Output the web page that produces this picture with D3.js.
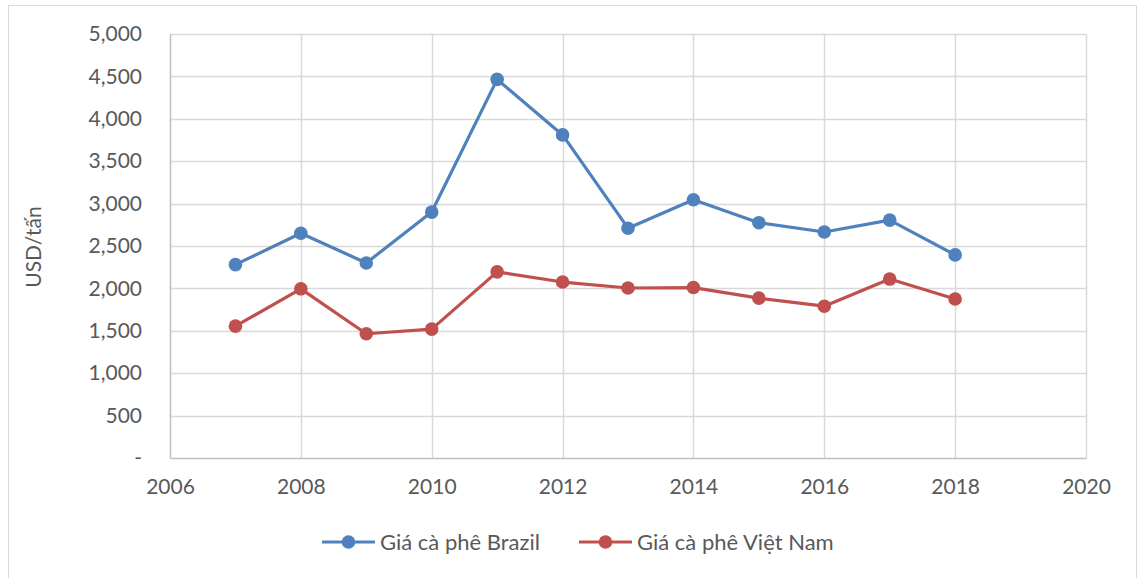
<!DOCTYPE html>
<html>
<head>
<meta charset="utf-8">
<script src="https://cdn.jsdelivr.net/npm/d3@7"></script>
<style>
  body { margin: 0; background: #fff; }
  text { font-family: Lato, "Open Sans", sans-serif; fill: #595959; }
</style>
</head>
<body>
<svg id="chart"></svg>
<script>
// data
var years = [2007, 2008, 2009, 2010, 2011, 2012, 2013, 2014, 2015, 2016, 2017, 2018];
var brazil = [2280, 2650, 2300, 2900, 4465, 3810, 2710, 3045, 2775, 2665, 2805, 2395];
var vietnam = [1555, 1995, 1465, 1520, 2195, 2075, 2005, 2010, 1885, 1790, 2110, 1875];
var xTicks = [2006, 2008, 2010, 2012, 2014, 2016, 2018, 2020];
var yTicks = [0, 500, 1000, 1500, 2000, 2500, 3000, 3500, 4000, 4500, 5000];
var seriesNames = ["Giá cà phê Brazil", "Giá cà phê Việt Nam"];
var seriesColors = ["#4f81bd", "#c0504d"];

var width = 1140, height = 578;
var margin = {left: 170, right: 54, top: 34, bottom: 120};
var fs = 21;

var svg = d3.select("#chart").attr("width", width).attr("height", height);

// outer chart border
svg.append("rect")
  .attr("x", 8.5).attr("y", 5.5)
  .attr("width", width - 12).attr("height", height - 4)
  .attr("fill", "none").attr("stroke", "#d9d9d9");

var x = d3.scaleLinear().domain([2006, 2020]).range([margin.left, width - margin.right]);
var y = d3.scaleLinear().domain([0, 5000]).range([height - margin.bottom, margin.top]);

// gridlines
svg.append("g").selectAll("line.h")
  .data(yTicks.slice(1))
  .enter().append("line")
  .attr("x1", x(2006)).attr("x2", x(2020))
  .attr("y1", function(d) { return Math.round(y(d)) + 0.5; })
  .attr("y2", function(d) { return Math.round(y(d)) + 0.5; })
  .attr("stroke", "#d9d9d9").attr("stroke-width", 1.5);

svg.append("g").selectAll("line.v")
  .data(xTicks.slice(1))
  .enter().append("line")
  .attr("x1", function(d) { return Math.round(x(d)) + 0.5; })
  .attr("x2", function(d) { return Math.round(x(d)) + 0.5; })
  .attr("y1", y(0)).attr("y2", y(5000))
  .attr("stroke", "#d9d9d9").attr("stroke-width", 1.5);

// axes
var xAxis = d3.axisBottom(x).tickValues(xTicks).tickSize(0).tickPadding(21).tickFormat(d3.format("d"));
var gx = svg.append("g").attr("transform", "translate(0," + y(0) + ")").call(xAxis);
gx.select(".domain").attr("stroke", "#bfbfbf").attr("stroke-width", 1.5);
gx.selectAll("text").attr("font-size", fs).style("fill", "#595959");

var yAxis = d3.axisLeft(y).tickValues(yTicks).tickSize(0).tickPadding(28)
  .tickFormat(function(d) { return d === 0 ? "-" : d3.format(",")(d); });
var gy = svg.append("g").attr("transform", "translate(" + x(2006) + ",0)").call(yAxis);
gy.select(".domain").attr("stroke", "#bfbfbf").attr("stroke-width", 1.5);
gy.selectAll("text").attr("font-size", fs).style("fill", "#595959");

svg.append("text")
  .attr("transform", "translate(41," + 247 + ") rotate(-90)")
  .attr("text-anchor", "middle")
  .attr("font-size", fs)
  .text("USD/tấn");

// series
var line = d3.line()
  .x(function(d) { return x(d[0]); })
  .y(function(d) { return y(d[1]); });

[brazil, vietnam].forEach(function(vals, i) {
  var pts = years.map(function(yr, j) { return [yr, vals[j]]; });
  svg.append("path")
    .datum(pts)
    .attr("d", line)
    .attr("fill", "none")
    .attr("stroke", seriesColors[i])
    .attr("stroke-width", 3.2)
    .attr("stroke-linejoin", "round");
  svg.append("g").selectAll("circle")
    .data(pts)
    .enter().append("circle")
    .attr("cx", function(d) { return x(d[0]); })
    .attr("cy", function(d) { return y(d[1]); })
    .attr("r", 6.8)
    .attr("fill", seriesColors[i]);
});

// legend
var legendX = [322, 579];
var leg = svg.append("g").selectAll("g")
  .data(seriesNames)
  .enter().append("g")
  .attr("transform", function(d, i) { return "translate(" + legendX[i] + ",542)"; });
leg.append("line")
  .attr("x1", 0).attr("x2", 53)
  .attr("stroke", function(d, i) { return seriesColors[i]; })
  .attr("stroke-width", 3.2);
leg.append("circle")
  .attr("cx", 26.5).attr("r", 6.8)
  .attr("fill", function(d, i) { return seriesColors[i]; });
leg.append("text")
  .attr("x", 58).attr("dy", "0.35em")
  .attr("font-size", 22)
  .text(function(d) { return d; });
</script>
</body>
</html>
